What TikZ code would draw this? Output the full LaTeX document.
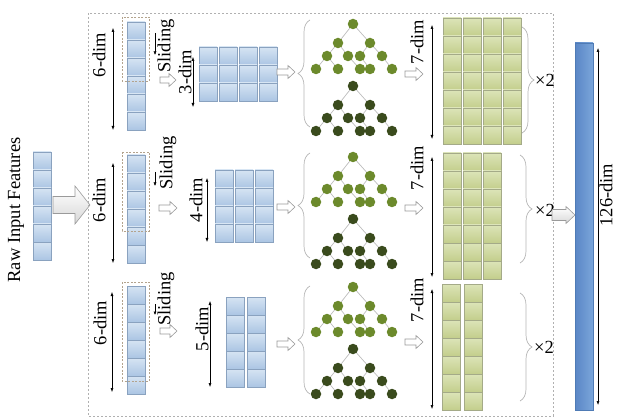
\documentclass[tikz,border=0pt]{standalone}
\usepackage{fontspec}
\setmainfont{Liberation Serif}
\usetikzlibrary{arrows.meta,decorations.pathreplacing}
\definecolor{cellbluetop}{HTML}{D6E4F3}
\definecolor{cellbluebot}{HTML}{ABC5E3}
\definecolor{cellblueedge}{HTML}{8AA2BF}
\definecolor{cellgreentop}{HTML}{DCE4B8}
\definecolor{cellgreenbot}{HTML}{C3CE8C}
\definecolor{cellgreenedge}{HTML}{A4AA88}
\definecolor{windowedge}{HTML}{B3A38D}
\definecolor{boxedge}{HTML}{B0B0B0}
\definecolor{arrowedge}{HTML}{9A9A9A}
\definecolor{arrowfill}{HTML}{D8D8D8}
\definecolor{braceedge}{HTML}{B5B5B5}
\definecolor{linkgray}{HTML}{BDBDBD}
\definecolor{treelight}{HTML}{6C8A2C}
\definecolor{treedark}{HTML}{3A4B1D}
\definecolor{barleft}{HTML}{5A86C6}
\definecolor{barright}{HTML}{7BA6DA}
\definecolor{baredge}{HTML}{4F7BB5}
% cells: x, y top, columns, rows, column pitch, style
\newcommand{\cellgrid}[6]{%
  \foreach \c in {1,...,#3}
    \foreach \r in {1,...,#4}
      \draw[#6] ({#1+(\c-1)*#5},{#2+(\r-1)*18}) rectangle ++(18,18);
}
% hollow arrow: [style] tail x, tip x, y, body half, head half, head length
\newcommand{\hollowarrow}[7][flow]{%
  \draw[#1] (#2,{#4-#5}) -- ({#3-#7},{#4-#5}) -- ({#3-#7},{#4-#6})
    -- (#3,#4) -- ({#3-#7},{#4+#6}) -- ({#3-#7},{#4+#5})
    -- (#2,{#4+#5}) -- cycle;
}
% one boosted tree: name, root x, root y, node style
\newcommand{\boosttree}[4]{%
  \begin{scope}[shift={(#2,#3)}]
    \node[#4] (#1-r)  at (0,0) {};
    \node[#4] (#1-a)  at (-15,19) {};
    \node[#4] (#1-b)  at (17,19) {};
    \node[#4] (#1-aa) at (-26,32) {};
    \node[#4] (#1-ab) at (-5,32) {};
    \node[#4] (#1-ba) at (7,32) {};
    \node[#4] (#1-bb) at (29,32) {};
    \node[#4] (#1-l1) at (-37,45) {};
    \node[#4] (#1-l2) at (-15,45) {};
    \node[#4] (#1-l3) at (7,45) {};
    \node[#4] (#1-l4) at (17,45) {};
    \node[#4] (#1-l5) at (39,45) {};
    \draw[treelink] (#1-r) -- (#1-a) (#1-r) -- (#1-b)
      (#1-a) -- (#1-aa) (#1-a) -- (#1-ab) (#1-b) -- (#1-ba) (#1-b) -- (#1-bb)
      (#1-aa) -- (#1-l1) (#1-aa) -- (#1-l2) (#1-ab) -- (#1-l3)
      (#1-ba) -- (#1-l4) (#1-bb) -- (#1-l5);
  \end{scope}
}

\begin{document}
\begin{tikzpicture}[
  x=1pt,
  y=-1pt,
  every node/.style={font=\fontsize{18.5}{20}\selectfont, text=black, inner sep=0pt},
  bluecell/.style={draw=cellblueedge, line width=0.5pt, top color=cellbluetop, bottom color=cellbluebot},
  greencell/.style={draw=cellgreenedge, line width=0.5pt, top color=cellgreentop, bottom color=cellgreenbot},
  window/.style={draw=windowedge, line width=0.6pt, dash pattern=on 2pt off 1.5pt},
  outline/.style={draw=boxedge, line width=0.5pt, dash pattern=on 2pt off 2pt},
  dimline/.style={black, line width=0.5pt, {Latex[length=4pt,width=3pt]}-{Latex[length=4pt,width=3pt]}},
  slide/.style={black, line width=0.5pt, -{Latex[length=3.5pt,width=3pt]}},
  flow/.style={draw=arrowedge, line width=0.6pt, fill=white},
  bigflow/.style={draw=arrowedge, line width=0.6pt, top color=white, bottom color=arrowfill},
  bracket/.style={draw=braceedge, line width=0.7pt, decorate, decoration={brace, amplitude=12pt}},
  treelink/.style={draw=linkgray, line width=0.7pt},
  upperleaf/.style={circle, fill=treelight, minimum size=10.5pt, inner sep=0pt},
  lowerleaf/.style={circle, fill=treedark, minimum size=10.5pt, inner sep=0pt},
  vlabel/.style={rotate=90}
]
  \useasboundingbox (0,0) rectangle (617,419);

  % ---- raw input and the outer frame ------------------------------------
  \node[vlabel] (raw) at (16,210) {Raw Input Features};
  \cellgrid{33}{152}{1}{6}{20}{bluecell}
  \hollowarrow[bigflow]{53}{90}{205}{8.5}{19}{15}
  \draw[outline] (88,13) rectangle (553,416);

  % ---- the three sliding windows ----------------------------------------
  \cellgrid{127}{22}{1}{6}{20}{bluecell}
  \cellgrid{127}{155}{1}{6}{20}{bluecell}
  \cellgrid{127}{286}{1}{6}{20}{bluecell}
  \draw[window] (122,17) rectangle (149,81);
  \draw[window] (122,152) rectangle (149,231);
  \draw[window] (122,282) rectangle (149,381);

  \coordinate (six1a) at (113,28);  \coordinate (six1b) at (113,130);
  \coordinate (six2a) at (113,163); \coordinate (six2b) at (113,263);
  \coordinate (six3a) at (112,292); \coordinate (six3b) at (112,392);
  \draw[dimline] (six1a) -- (six1b);
  \draw[dimline] (six2a) -- (six2b);
  \draw[dimline] (six3a) -- (six3b);
  \node[vlabel] (six1) at (99,55) {6-dim};
  \node[vlabel] (six2) at (99,200) {6-dim};
  \node[vlabel] (six3) at (100,323) {6-dim};

  \node[vlabel] (slide1) at (166,46) {Sliding};
  \node[vlabel] (slide2) at (168,163) {Sliding};
  \node[vlabel] (slide3) at (166,299) {Sliding};
  \coordinate (sl1a) at (155,33);  \coordinate (sl1b) at (155,55);
  \coordinate (sl2a) at (155,172); \coordinate (sl2b) at (155,186);
  \coordinate (sl3a) at (155,304); \coordinate (sl3b) at (155,315);
  \draw[slide] (sl1a) -- (sl1b);
  \draw[slide] (sl2a) -- (sl2b);
  \draw[slide] (sl3a) -- (sl3b);
  \hollowarrow{160}{176}{80}{3}{6.5}{7}
  \hollowarrow{159}{177}{208}{3}{6.5}{7}
  \hollowarrow{160}{177}{331}{3}{6.5}{7}

  % ---- windowed samples -------------------------------------------------
  \cellgrid{199}{47}{4}{3}{20}{bluecell}
  \cellgrid{215}{170}{3}{4}{20}{bluecell}
  \cellgrid{226}{297}{2}{5}{21}{bluecell}
  \coordinate (three-a) at (193,57);  \coordinate (three-b) at (193,107);
  \coordinate (four-a) at (207,178);  \coordinate (four-b) at (207,242);
  \coordinate (five-a) at (210,301);  \coordinate (five-b) at (210,387);
  \draw[dimline] (three-a) -- (three-b);
  \draw[dimline] (four-a) -- (four-b);
  \draw[dimline] (five-a) -- (five-b);
  \node[vlabel] (three) at (185,72) {3-dim};
  \node[vlabel] (four) at (196,200) {4-dim};
  \node[vlabel] (five) at (202,329) {5-dim};
  \hollowarrow{277}{295}{72}{3}{6.5}{7}
  \hollowarrow{277}{295}{207}{3}{6.5}{7}
  \hollowarrow{277}{295}{344}{3}{6.5}{7}

  % ---- forests: two trees each ------------------------------------------
  \draw[bracket] (310,127) -- (310,20);
  \draw[bracket] (310,258) -- (310,153);
  \draw[bracket] (310,394) -- (310,286);
  \boosttree{f1u}{353}{24}{upperleaf}
  \boosttree{f1l}{353}{86}{lowerleaf}
  \boosttree{f2u}{353}{157}{upperleaf}
  \boosttree{f2l}{353}{219}{lowerleaf}
  \boosttree{f3u}{353}{287}{upperleaf}
  \boosttree{f3l}{353}{349}{lowerleaf}
  \hollowarrow{405}{423}{74}{3}{6.5}{7}
  \hollowarrow{405}{423}{208}{3}{6.5}{7}
  \hollowarrow{405}{423}{342}{3}{6.5}{7}

  % ---- forest outputs ---------------------------------------------------
  \cellgrid{443}{18}{4}{7}{20}{greencell}
  \cellgrid{443}{153}{3}{7}{20}{greencell}
  \cellgrid{442}{284}{2}{7}{22}{greencell}
  \coordinate (seven1a) at (432,25);  \coordinate (seven1b) at (432,139);
  \coordinate (seven2a) at (432,157); \coordinate (seven2b) at (432,277);
  \coordinate (seven3a) at (432,289); \coordinate (seven3b) at (432,409);
  \draw[dimline] (seven1a) -- (seven1b);
  \draw[dimline] (seven2a) -- (seven2b);
  \draw[dimline] (seven3a) -- (seven3b);
  \node[vlabel] (seven1) at (417,42) {7-dim};
  \node[vlabel] (seven2) at (417,168) {7-dim};
  \node[vlabel] (seven3) at (417,300) {7-dim};
  \draw[bracket] (522,27) -- (522,133);
  \draw[bracket] (520,155) -- (520,263);
  \draw[bracket] (520,293) -- (520,401);
  \node (times1) at (545,80) {×2};
  \node (times2) at (545,210) {×2};
  \node (times3) at (544,347) {×2};

  % ---- concatenated vector ----------------------------------------------
  \hollowarrow[bigflow]{552}{575}{215}{5.5}{8.5}{9}
  \draw[draw=baredge, line width=0.5pt, left color=barleft, right color=barright]
    (575,43) rectangle (593,410);
  \coordinate (alla) at (598,48); \coordinate (allb) at (598,405);
  \draw[dimline] (alla) -- (allb);
  \node[vlabel] (all) at (606,195) {126-dim};
\end{tikzpicture}
\end{document}
